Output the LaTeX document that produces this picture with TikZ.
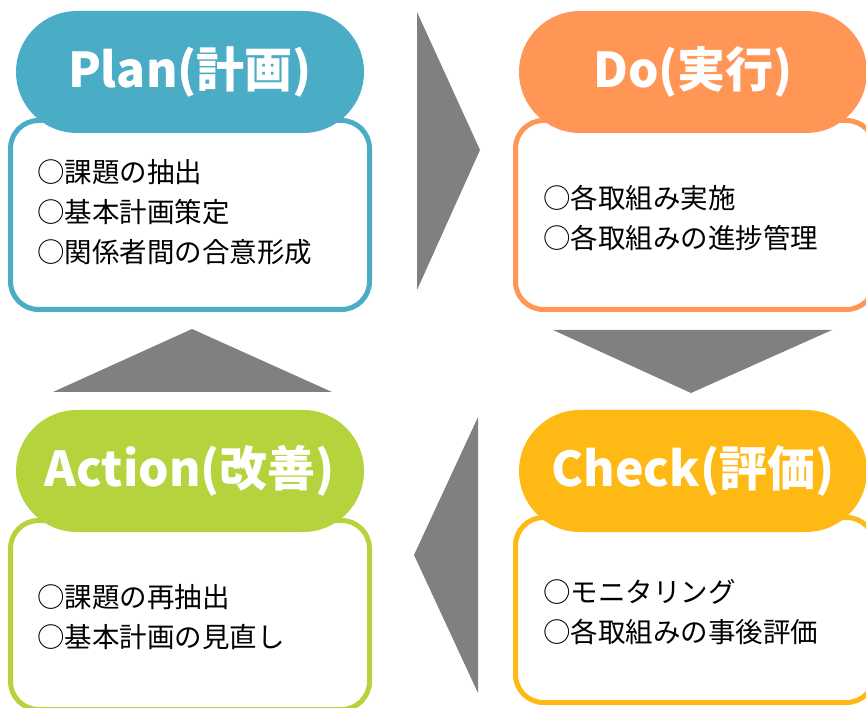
\documentclass[tikz,border=0pt]{standalone}
\usepackage{fontspec}
\setmainfont{Noto Sans CJK JP}
\usepackage{tikz}
\definecolor{planblue}{HTML}{4BACC6}
\definecolor{doorange}{HTML}{FF9655}
\definecolor{checkyellow}{HTML}{FFB914}
\definecolor{actgreen}{HTML}{B5D33D}
\definecolor{arrowgray}{HTML}{808080}
\tikzset{
  listbox/.style={line width=5pt, fill=white, rounded corners=28pt},
  pill/.style={rounded corners=61pt},
  titletext/.style={text=white, font=\fontsize{48}{48}\selectfont\bfseries},
  listtext/.style={anchor=west, align=left, inner sep=0pt, font=\fontsize{27.5}{40}\selectfont},
}

\begin{document}
\begin{tikzpicture}
    \useasboundingbox (0pt,0pt) rectangle (866pt,707pt);

		\draw[listbox, draw=planblue] (10.5pt,586.5pt) rectangle (369.5pt,397.5pt);
		\fill[pill, planblue] (16pt,696pt) rectangle (364pt,574pt);
    \node[titletext] (plantitle) at (190pt,635pt) {Plan(計画)};
    \node[listtext] (planlist) at (37pt,495pt) {○課題の抽出\\○基本計画策定\\○関係者間の合意形成};

		\draw[listbox, draw=doorange] (515.5pt,586.5pt) rectangle (874.5pt,397.5pt);
		\fill[pill, doorange] (519pt,696pt) rectangle (867pt,574pt);
    \node[titletext] (dotitle) at (693pt,635pt) {Do(実行)};
    \node[listtext] (dolist) at (543pt,489pt) {○各取組み実施\\○各取組みの進捗管理};

		\draw[listbox, draw=checkyellow] (515.5pt,189.5pt) rectangle (874.5pt,4.5pt);
		\fill[pill, checkyellow] (519pt,297pt) rectangle (867pt,175pt);
    \node[titletext] (checktitle) at (693pt,236pt) {Check(評価)};
    \node[listtext] (checklist) at (543pt,94.5pt) {○モニタリング\\○各取組みの事後評価};

		\draw[listbox, draw=actgreen] (10.5pt,186.5pt) rectangle (369.5pt,-2.5pt);
		\fill[pill, actgreen] (16pt,297pt) rectangle (364pt,175pt);
    \node[titletext] (acttitle) at (190pt,236pt) {Action(改善)};
    \node[listtext] (actlist) at (37pt,90pt) {○課題の再抽出\\○基本計画の見直し};

		\fill[arrowgray] (417pt,695pt) -- (480pt,557pt) -- (417pt,417pt) -- cycle;
		\fill[arrowgray] (553pt,377pt) -- (832pt,377pt) -- (691pt,314pt) -- cycle;
		\fill[arrowgray] (478pt,290pt) -- (414pt,152pt) -- (478pt,14pt) -- cycle;
		\fill[arrowgray] (53pt,315pt) -- (332pt,315pt) -- (192pt,378pt) -- cycle;
\end{tikzpicture}
\end{document}
